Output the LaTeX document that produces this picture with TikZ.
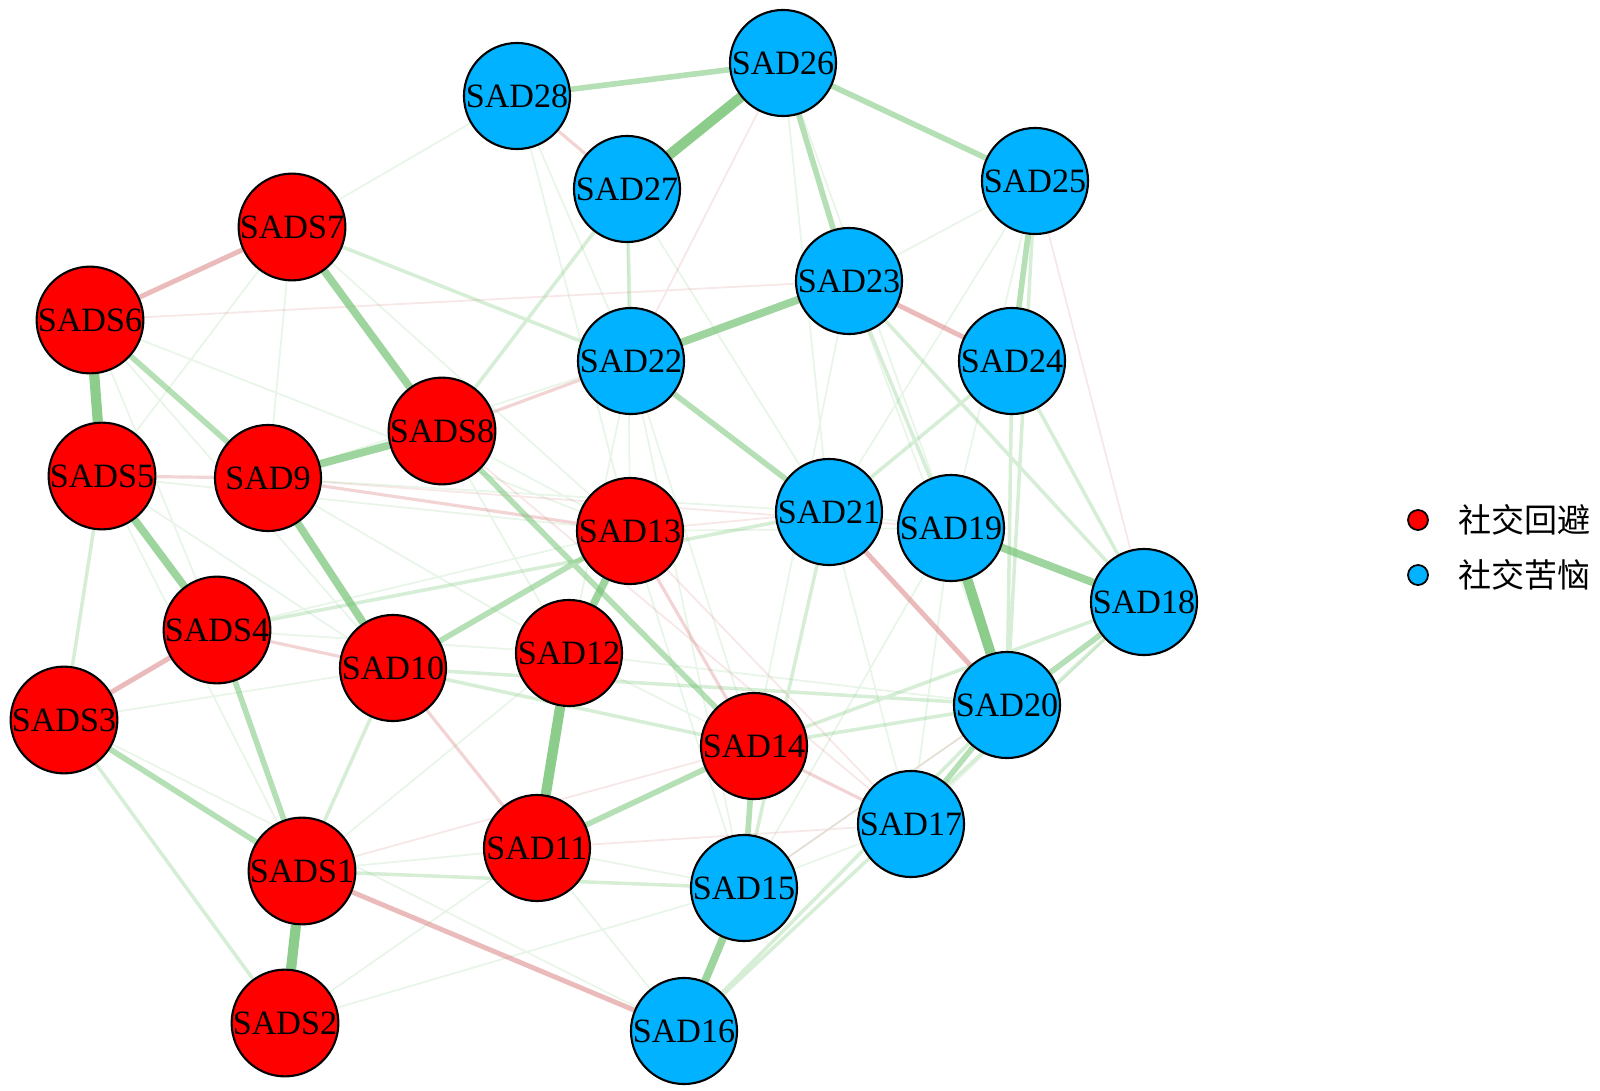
\documentclass[tikz,border=0pt]{standalone}
\usepackage{fontspec}
\setmainfont{Liberation Serif}
\newfontfamily\cjk{Noto Sans CJK SC}
\usepackage{tikz}
\pgfdeclarelayer{edges}
\pgfsetlayers{edges,main}
\definecolor{avoidred}{RGB}{255,0,0}
\definecolor{distblue}{RGB}{0,178,255}
\definecolor{posedge}{RGB}{120,196,120}
\definecolor{negedge}{RGB}{215,120,120}
\tikzset{
  item/.style={circle,draw=black,line width=0.6pt,minimum size=1.06cm,inner sep=0pt,
    font=\fontsize{9.7}{11}\selectfont},
  avoid/.style={item,fill=avoidred},
  dist/.style={item,fill=distblue},
  pos5/.style={draw=posedge,line width=2.9pt,draw opacity=0.85},
  pos4/.style={draw=posedge,line width=2.2pt,draw opacity=0.72},
  pos3/.style={draw=posedge,line width=1.6pt,draw opacity=0.55},
  pos2/.style={draw=posedge,line width=1.0pt,draw opacity=0.3},
  pos1/.style={draw=posedge,line width=0.5pt,draw opacity=0.17},
  neg3/.style={draw=negedge,line width=1.4pt,draw opacity=0.5},
  neg2/.style={draw=negedge,line width=0.9pt,draw opacity=0.32},
  neg1/.style={draw=negedge,line width=0.5pt,draw opacity=0.18},
  keydot/.style={circle,draw=black,line width=0.5pt,minimum size=0.2cm,inner sep=0pt},
  keytext/.style={anchor=west,inner sep=0pt,font=\cjk\fontsize{9.4}{11}\selectfont}
}
\begin{document}
\begin{tikzpicture}[x=0.01cm,y=-0.01cm]
\useasboundingbox (0,0) rectangle (1600,1091);

% avoidance items
\node[avoid] (s7) at (292,227) {SADS7};
\node[avoid] (s6) at (90,320) {SADS6};
\node[avoid] (s5) at (102,476) {SADS5};
\node[avoid] (s4) at (217,630) {SADS4};
\node[avoid] (s3) at (64,720) {SADS3};
\node[avoid] (s1) at (302,871) {SADS1};
\node[avoid] (s2) at (285,1023) {SADS2};
\node[avoid] (s8) at (442,431) {SADS8};
\node[avoid] (d9) at (268,478) {SAD9};
\node[avoid] (d10) at (393,668) {SAD10};
\node[avoid] (d11) at (537,848) {SAD11};
\node[avoid] (d12) at (569,653) {SAD12};
\node[avoid] (d13) at (630,531) {SAD13};
\node[avoid] (d14) at (754,746) {SAD14};

% distress items
\node[dist] (d15) at (744,888) {SAD15};
\node[dist] (d16) at (684,1031) {SAD16};
\node[dist] (d17) at (911,824) {SAD17};
\node[dist] (d18) at (1144,602) {SAD18};
\node[dist] (d19) at (951,528) {SAD19};
\node[dist] (d20) at (1007,705) {SAD20};
\node[dist] (d21) at (829,512) {SAD21};
\node[dist] (d22) at (631,361) {SAD22};
\node[dist] (d23) at (849,281) {SAD23};
\node[dist] (d24) at (1012,361) {SAD24};
\node[dist] (d25) at (1035,181) {SAD25};
\node[dist] (d26) at (783,63) {SAD26};
\node[dist] (d27) at (627,189) {SAD27};
\node[dist] (d28) at (517,96) {SAD28};

\begin{pgfonlayer}{edges}
% faint ones first
\draw[pos1] (s7) -- (d28) (s7) -- (d9) (s7) -- (s5) (s7) -- (d13) (s6) -- (d13)
  (s6) -- (s4) (s5) -- (d10) (s5) -- (d13) (d9) -- (d22) (d9) -- (d21)
  (s8) -- (d13) (s8) -- (d12) (s4) -- (d12) (s3) -- (d10) (s1) -- (d11)
  (s1) -- (d12) (s2) -- (d11) (s2) -- (d15) (d12) -- (d14) (d12) -- (d20)
  (d13) -- (d15) (d13) -- (d19) (d22) -- (d14) (d22) -- (d15) (d22) -- (d12)
  (d27) -- (d13) (d27) -- (d21) (d26) -- (d21) (d26) -- (d19) (d28) -- (d22)
  (d28) -- (d13) (d25) -- (d23) (d25) -- (d21) (d25) -- (d19) (d23) -- (d20)
  (d23) -- (d14) (d21) -- (d19) (d21) -- (d17) (d19) -- (d17) (d19) -- (d15)
  (d18) -- (d17) (d20) -- (d15) (d17) -- (d15) (d11) -- (d15) (d11) -- (d16)
  (s3) -- (d16) (s4) -- (d13) (s6) -- (d10) (d9) -- (d12) (s5) -- (s1);
\draw[neg1] (d26) -- (d22) (d25) -- (d18) (d13) -- (d21) (s8) -- (d17)
  (d15) -- (d20) (d13) -- (d17) (s6) -- (d23) (d11) -- (d17) (s1) -- (d14)
  (d9) -- (d19);
% light ones
\draw[pos2] (s3) -- (s2) (s7) -- (d22) (s8) -- (d27) (d14) -- (d20) (d16) -- (d20)
  (d16) -- (d18) (d24) -- (d21) (d24) -- (d18) (d24) -- (d20) (s1) -- (d15)
  (s1) -- (d10) (s4) -- (d21) (d10) -- (d14) (d10) -- (d20) (d23) -- (d19)
  (d23) -- (d18) (d27) -- (d22) (d21) -- (d15) (d14) -- (d18) (d25) -- (d20)
  (s5) -- (s3);
\draw[neg2] (d28) -- (d27) (d22) -- (s8) (s5) -- (d9) (s4) -- (d10)
  (d10) -- (d11) (d13) -- (d14) (d14) -- (d17) (d9) -- (d13);
% medium ones
\draw[pos3] (d28) -- (d26) (d26) -- (d25) (d26) -- (d23) (d25) -- (d24)
  (d22) -- (d21) (s6) -- (d9) (s4) -- (s1) (s3) -- (s1) (d10) -- (d13)
  (d11) -- (d14) (d14) -- (d15) (s8) -- (d14) (d18) -- (d20) (d20) -- (d17);
\draw[neg3] (s7) -- (s6) (d23) -- (d24) (s4) -- (s3) (s1) -- (d16) (d21) -- (d20);
% strong ones
\draw[pos4] (d9) -- (s8) (d13) -- (d12) (s7) -- (s8) (d15) -- (d16) (d9) -- (d10)
  (s5) -- (s4) (d23) -- (d22) (d19) -- (d18);
\draw[pos5] (d26) -- (d27) (s6) -- (s5) (s1) -- (s2) (d19) -- (d20) (d12) -- (d11);
\end{pgfonlayer}

% legend
\node[keydot,fill=avoidred] (k1) at (1418,520) {};
\node[keydot,fill=distblue] (k2) at (1418,575) {};
\node[keytext] (t1) at (1458,520) {社交回避};
\node[keytext] (t2) at (1458,575) {社交苦恼};
\end{tikzpicture}
\end{document}
